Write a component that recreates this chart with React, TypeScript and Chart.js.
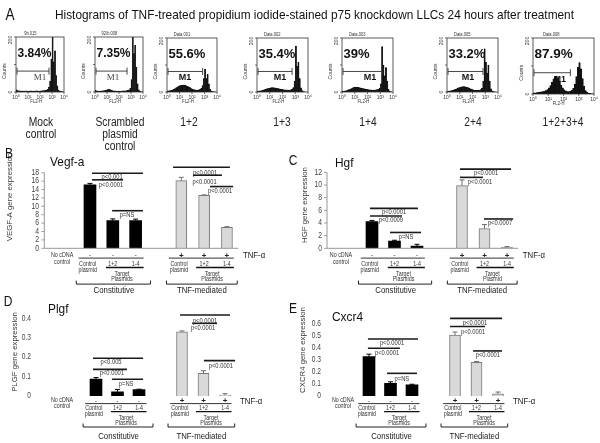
import React, { useEffect, useRef } from "react";
import { Chart, registerables } from "chart.js";
Chart.register(...registerables);

const PAGE_W = 600;
const PAGE_H = 443;
const SANS = '"Liberation Sans", Arial, Helvetica, sans-serif';
const SERIF = '"Liberation Serif", "Times New Roman", serif';

// ================= Panel A : flow cytometry histograms =================
const pageLetter = "A";
const pageTitle =
  "Histograms of TNF-treated propidium iodide-stained p75 knockdown LLCs 24 hours after treatment";
const histConditionLabels = [
  ["Mock", "control"],
  ["Scrambled", "plasmid", "control"],
  ["1+2"],
  ["1+3"],
  ["1+4"],
  ["2+4"],
  ["1+2+3+4"],
];
const histFileNames = ["9b.015", "92/b.008", "Data.001", "Data.002", "Data.003", "Data.005", "Data.008"];
const histPercentLabels = ["3.84%", "7.35%", "55.6%", "35.4%", "39%", "33.2%", "87.9%"];
const histM1EndDecade = [2.75, 2.67, 2.85, 2.75, 3.2, 2.82, 2.45];
const histM1LabelDecade = [2.0, 1.5, 1.45, 1.8, 2.2, 1.65, 1.75];
const histDecadeTicks = ["10\u2070", "10\u00b9", "10\u00b2", "10\u00b3", "10\u2074"];
const histYTicks = [0, 100, 200];

// counts per 0.1-decade bin of FL2-H (10^0 .. 10^4)
const countsMock = [8, 5, 4, 4, 3, 4, 3, 3, 4, 3, 3, 3, 4, 3, 3, 3, 4, 4, 3, 3, 4, 4, 5, 5, 6, 7, 10, 18, 40, 120, 215, 110, 150, 60, 22, 7, 3, 2, 1, 1];
const countsScrambled = [6, 4, 3, 3, 3, 4, 4, 5, 6, 7, 9, 10, 9, 7, 5, 4, 4, 3, 3, 3, 3, 3, 3, 4, 4, 4, 5, 6, 8, 14, 45, 215, 140, 170, 90, 30, 8, 3, 1, 1];
const counts12 = [4, 4, 5, 6, 8, 10, 13, 16, 19, 22, 24, 25, 26, 26, 25, 23, 21, 19, 16, 13, 11, 9, 8, 7, 7, 8, 10, 14, 24, 50, 85, 50, 65, 30, 10, 4, 2, 1, 1, 0];
const counts13 = [3, 3, 4, 5, 6, 8, 10, 12, 13, 14, 15, 16, 16, 15, 15, 14, 13, 12, 11, 10, 9, 8, 8, 7, 7, 7, 8, 10, 16, 40, 170, 95, 110, 50, 15, 5, 2, 1, 0, 0];
const counts14 = [3, 3, 4, 5, 7, 9, 11, 13, 15, 17, 18, 18, 17, 16, 15, 14, 13, 12, 11, 10, 9, 8, 8, 7, 7, 7, 8, 9, 10, 14, 30, 168, 100, 60, 90, 40, 10, 3, 1, 0];
const counts24 = [3, 3, 4, 5, 6, 8, 10, 12, 14, 16, 18, 19, 20, 20, 19, 18, 16, 14, 12, 10, 8, 7, 6, 6, 6, 7, 9, 14, 40, 160, 110, 70, 100, 40, 12, 4, 2, 1, 0, 0];
const counts1234 = [4, 4, 5, 6, 7, 8, 9, 10, 12, 16, 22, 30, 42, 54, 62, 64, 58, 46, 32, 22, 15, 11, 9, 9, 10, 13, 20, 35, 62, 95, 112, 90, 55, 28, 12, 6, 3, 2, 1, 1];
const histCounts = [countsMock, countsScrambled, counts12, counts13, counts14, counts24, counts1234];

// layout of panel A (page pixels): [left, right, top, bottom]
const histBoxes = [
  [16, 64, 37, 92],
  [95, 143, 37, 92],
  [167, 217, 38, 92],
  [257, 308, 38, 92],
  [342, 393, 38, 92],
  [447, 498, 38, 92],
  [533, 594, 38, 94],
];
const histLabelCenters = [41, 120, 189, 282, 368, 473, 563];
const histPctFont = [12, 12, 13, 13, 13, 13, 13.5];
const histM1Serif = [true, true, false, false, false, false, false];

// ================= Panels B-E : gene expression bars =================
const xCategories = ["No cDNA control", "", "Control plasmid", "1+2", "1-4", "", "Control plasmid", "1+2", "1-4"];
const constSlots = [2, 3, 4];
const tnfSlots = [6, 7, 8];
const constSigns = ["-", "-", "-"];
const tnfSigns = ["+", "+", "+"];
const groupLabels = ["Constitutive", "TNF-mediated"];

const vegfConst = [15.1, 6.6, 6.6];
const vegfConstErr = [0.35, 0.4, 0.35];
const vegfTnf = [16.1, 12.6, 5.0];
const vegfTnfErr = [0.8, 0.12, 0.15];
const vegfSigLines = [[2.09, 4.32, 17.86], [2.09, 3.45, 16.3], [2.97, 4.32, 8.95], [5.64, 8.13, 19.3], [6.51, 7.78, 17.4], [7.26, 8.27, 14.7]];
const vegfSigTexts: [string, number, number][] = [["p<0.001", 2.97, 17.0], ["p<0.0001", 2.92, 15.1], ["p=NS", 3.62, 7.8], ["p<0.0001", 7.04, 18.0], ["p<0.0001", 7.02, 15.7], ["p<0.0001", 7.7, 13.5]];

const hgfConst = [4.2, 1.15, 0.35];
const hgfConstErr = [0.2, 0.12, 0.28];
const hgfTnf = [9.9, 3.1, 0.15];
const hgfTnfErr = [0.9, 0.65, 0.12];
const hgfSigLines = [[1.91, 4.04, 6.3], [1.91, 3.33, 5.1], [2.8, 4.18, 2.5], [5.91, 8.18, 12.5], [5.91, 6.93, 11.2], [6.98, 8.27, 4.63]];
const hgfSigTexts: [string, number, number][] = [["p<0.0001", 2.98, 5.7], ["p<0.0009", 2.84, 4.47], ["p=NS", 3.51, 1.74], ["p<0.0001", 7.07, 11.85], ["p<0.0001", 6.8, 10.4], ["p<0.0007", 7.69, 3.95]];

const plgfConst = [0.087, 0.022, 0.033];
const plgfConstErr = [0.008, 0.012, 0.002];
const plgfTnf = [0.33, 0.117, 0.005];
const plgfTnfErr = [0.005, 0.013, 0.007];
const plgfSigLines = [[1.86, 4.19, 0.194], [1.86, 3.44, 0.137], [2.74, 4.19, 0.086], [5.91, 8.23, 0.417], [6.47, 7.63, 0.374], [7.02, 8.47, 0.182]];
const plgfSigTexts: [string, number, number][] = [["p<0.005", 2.7, 0.177], ["p<0.0001", 2.74, 0.117], ["p=NS", 3.4, 0.06], ["p<0.0001", 7.07, 0.386], ["p<0.0001", 6.98, 0.35], ["p<0.0001", 7.81, 0.155]];

const cxcr4Const = [0.325, 0.105, 0.092];
const cxcr4ConstErr = [0.02, 0.012, 0.005];
const cxcr4Tnf = [0.503, 0.277, 0.018];
const cxcr4TnfErr = [0.025, 0.008, 0.015];
const cxcr4SigLines = [[1.95, 4.28, 0.471], [1.95, 3.44, 0.394], [2.84, 4.23, 0.187], [5.77, 8.19, 0.641], [5.77, 7.4, 0.573], [6.84, 8.19, 0.372]];
const cxcr4SigTexts: [string, number, number][] = [["p<0.0001", 3.07, 0.435], ["p<0.0001", 2.84, 0.358], ["p=NS", 3.53, 0.138], ["p<0.0001", 6.93, 0.6], ["p<0.0001", 6.84, 0.526], ["p<0.0001", 7.53, 0.339]];

// ---- layout (positions / styles) ----
const topRowOffsets = { noc1: 6.8, noc2: 13.5, sign: 7.0, signLine: 9.8, tnf: 7.3, sub1: 15.8, sub2: 21.8, subLine: 19.2, target1: 25.8, target2: 31.3, bracket: 35.8, group: 42.5 };
const bottomRowOffsets = { noc1: 3.8, noc2: 10.2, sign: 5.0, signLine: 7.6, tnf: 5.8, sub1: 12.2, sub2: 18, subLine: 15.7, target1: 22.2, target2: 27.3, bracket: 31, group: 40 };
const annot = {
  constSignLine: [1.5, 4.35], tnfSignLine: [5.45, 8.3], tnfLabel: 8.7,
  constCtrl: 1.9, tnfCtrl: 5.9, constSub: [2.7, 4.35], tnfSub: [6.65, 8.3],
  constTarget: 3.4, tnfTarget: 7.35, constBracket: [1.4, 4.65], tnfBracket: [5.35, 8.45],
  constGroup: 3.05, tnfGroup: 6.9,
};

type Offs = typeof topRowOffsets;
type BarPanel = {
  letter: string; gene: string; yTitle: string; yMax: number; yStep: number; decimals: number;
  constVals: number[]; constErr: number[]; tnfVals: number[]; tnfErr: number[];
  sigLines: number[][]; sigTexts: [string, number, number][]; tnfTargetWord: string;
  L: {
    slotLeft: number; slotW: number; top: number; bottom: number;
    letterX: number; letterY: number; geneX: number; geneY: number;
    yTitleX: number; yTitleY: number; tickRight: number; tickFont: number; tickSx: number;
    axes: boolean; noCdna: number; offs: Offs;
  };
};

const barPanels: BarPanel[] = [
  {
    letter: "B", gene: "Vegf-a", yTitle: "VEGF-A gene expression", yMax: 18, yStep: 2, decimals: 0,
    constVals: vegfConst, constErr: vegfConstErr, tnfVals: vegfTnf, tnfErr: vegfTnfErr,
    sigLines: vegfSigLines, sigTexts: vegfSigTexts, tnfTargetWord: "Plasmids",
    L: { slotLeft: 32.9, slotW: 22.83, top: 172.7, bottom: 248.3, letterX: 9, letterY: 154, geneX: 50, geneY: 162,
      yTitleX: 10, yTitleY: 197, tickRight: 39, tickFont: 8.5, tickSx: 0.8, axes: true, noCdna: 0.78, offs: topRowOffsets },
  },
  {
    letter: "C", gene: "Hgf", yTitle: "HGF gene expression", yMax: 12, yStep: 2, decimals: 0,
    constVals: hgfConst, constErr: hgfConstErr, tnfVals: hgfTnf, tnfErr: hgfTnfErr,
    sigLines: hgfSigLines, sigTexts: hgfSigTexts, tnfTargetWord: "Plasmid",
    L: { slotLeft: 315.75, slotW: 22.5, top: 172.3, bottom: 248.3, letterX: 293, letterY: 161, geneX: 335, geneY: 163,
      yTitleX: 305, yTitleY: 205, tickRight: 322, tickFont: 8.5, tickSx: 0.8, axes: true, noCdna: 0.62, offs: topRowOffsets },
  },
  {
    letter: "D", gene: "Plgf", yTitle: "PLGF gene expression", yMax: 0.4, yStep: 0.1, decimals: 1,
    constVals: plgfConst, constErr: plgfConstErr, tnfVals: plgfTnf, tnfErr: plgfTnfErr,
    sigLines: plgfSigLines, sigTexts: plgfSigTexts, tnfTargetWord: "Plasmids",
    L: { slotLeft: 42.25, slotW: 21.5, top: 318.3, bottom: 396, letterX: 8, letterY: 302, geneX: 48, geneY: 309,
      yTitleX: 15, yTitleY: 352, tickRight: 31, tickFont: 8.5, tickSx: 0.78, axes: false, noCdna: 0.42, offs: bottomRowOffsets },
  },
  {
    letter: "E", gene: "Cxcr4", yTitle: "CXCR4 gene expression", yMax: 0.6, yStep: 0.1, decimals: 1,
    constVals: cxcr4Const, constErr: cxcr4ConstErr, tnfVals: cxcr4Tnf, tnfErr: cxcr4TnfErr,
    sigLines: cxcr4SigLines, sigTexts: cxcr4SigTexts, tnfTargetWord: "Plasmids",
    L: { slotLeft: 315.25, slotW: 21.5, top: 323.3, bottom: 396, letterX: 293, letterY: 309, geneX: 332, geneY: 317,
      yTitleX: 303, yTitleY: 350, tickRight: 321, tickFont: 8.5, tickSx: 0.78, axes: false, noCdna: 0.79, offs: bottomRowOffsets },
  },
];

// ================= drawing helpers =================
type TOpts = { align?: CanvasTextAlign; bold?: boolean; family?: string; color?: string; sx?: number; rot?: number };
function drawText(ctx: CanvasRenderingContext2D, s: string, x: number, y: number, size: number, o: TOpts = {}) {
  ctx.save();
  ctx.translate(x, y);
  if (o.rot) ctx.rotate(o.rot);
  ctx.scale(o.sx ?? 1, 1);
  ctx.font = `${o.bold ? "bold " : ""}${size}px ${o.family ?? SANS}`;
  ctx.fillStyle = o.color ?? "#222";
  ctx.textAlign = o.align ?? "center";
  ctx.textBaseline = "middle";
  ctx.fillText(s, 0, 0);
  ctx.restore();
}
function seg(ctx: CanvasRenderingContext2D, x1: number, y1: number, x2: number, y2: number, w = 1, color = "#222") {
  ctx.save();
  ctx.strokeStyle = color;
  ctx.lineWidth = w;
  ctx.beginPath();
  ctx.moveTo(x1, y1);
  ctx.lineTo(x2, y2);
  ctx.stroke();
  ctx.restore();
}

// ================= panel A configs =================
function histPlugin(i: number) {
  return {
    id: "histDecor" + i,
    afterDraw(chart: any) {
      const ctx: CanvasRenderingContext2D = chart.ctx;
      const a = chart.chartArea;
      const ys = chart.scales.y;
      const w = a.right - a.left;
      const h = a.bottom - a.top;
      const dx = (d: number) => a.left + (d / 4) * w;
      ctx.save();
      ctx.strokeStyle = "#333";
      ctx.lineWidth = 0.8;
      ctx.strokeRect(a.left, a.top, w, h);
      ctx.restore();
      histDecadeTicks.forEach((lab, d) => {
        const x = dx(d);
        seg(ctx, x, a.bottom, x, a.bottom + 2, 0.7, "#333");
        drawText(ctx, lab, x, a.bottom + 5, 5.5, { sx: 0.9, color: "#333" });
      });
      drawText(ctx, "FL2-H", a.left + 0.42 * w, a.bottom + 10, 5, { sx: 0.85, color: "#333" });
      histYTicks.forEach((v) => {
        const y = ys.getPixelForValue(v);
        seg(ctx, a.left - 2, y, a.left, y, 0.7, "#333");
      });
      drawText(ctx, "200", a.left - 5, ys.getPixelForValue(200) + 3, 5, { rot: -Math.PI / 2, color: "#333" });
      drawText(ctx, "0", a.left - 5, ys.getPixelForValue(0), 5, { rot: -Math.PI / 2, color: "#333" });
      drawText(ctx, "Counts", a.left - 11, a.top + 0.62 * h, 5, { rot: -Math.PI / 2, color: "#333" });
      drawText(ctx, histFileNames[i], a.left + 0.3 * w, a.top - 3.5, 4.8, { sx: 0.85, color: "#333" });
      drawText(ctx, histPercentLabels[i], a.left + 1.5, a.top + 16.5, histPctFont[i], { bold: true, align: "left", color: "#111" });
      const my = a.top + 0.62 * h;
      const x1 = a.left + 1;
      const x2 = dx(histM1EndDecade[i]);
      seg(ctx, x1, my, x2, my, 0.9, "#333");
      seg(ctx, x1, my - 3.5, x1, my + 3.5, 0.9, "#333");
      seg(ctx, x2, my - 3.5, x2, my + 3.5, 0.9, "#333");
      const serif = histM1Serif[i];
      drawText(ctx, "M1", dx(histM1LabelDecade[i]), my + 6.5, 9, {
        bold: !serif, family: serif ? SERIF : SANS, color: serif ? "#444" : "#111",
      });
      histConditionLabels[i].forEach((s, k) => {
        drawText(ctx, s, histLabelCenters[i], 123 + k * 12, 12.5, { sx: 0.82, color: "#222" });
      });
      if (i === 0) {
        ctx.save();
        ctx.font = `13.5px ${SANS}`;
        const tw = ctx.measureText(pageTitle).width;
        ctx.restore();
        drawText(ctx, pageTitle, 314.5, 15, 13.5, { sx: 519 / tw, color: "#111" });
        drawText(ctx, pageLetter, 10, 16, 16, { sx: 0.85, color: "#111" });
      }
    },
  };
}

function histConfig(i: number) {
  const b = histBoxes[i];
  const binLabels = histCounts[i].map((_, k) => (k / 10).toFixed(1));
  return {
    type: "bar",
    data: {
      labels: binLabels,
      datasets: [
        {
          data: histCounts[i],
          backgroundColor: "#111",
          borderColor: "#111",
          borderWidth: 0.4,
          barPercentage: 1,
          categoryPercentage: 1,
          clip: 0,
        },
      ],
    },
    options: {
      responsive: false,
      animation: false,
      events: [],
      layout: { padding: { left: b[0], right: PAGE_W - b[1], top: b[2], bottom: PAGE_H - b[3] } },
      plugins: { legend: { display: false }, tooltip: { enabled: false } },
      scales: {
        x: { display: false },
        y: { display: false, min: 0, max: 200 },
      },
    },
    plugins: [histPlugin(i)],
  };
}

// ================= panels B-E configs =================
function slotArray(vals: number[], slots: number[]) {
  const out: (number | null)[] = xCategories.map(() => null);
  slots.forEach((s, k) => {
    out[s] = vals[k];
  });
  return out;
}

function barPlugin(p: BarPanel) {
  return {
    id: "panel" + p.letter,
    afterDatasetsDraw(chart: any) {
      const ctx: CanvasRenderingContext2D = chart.ctx;
      const ys = chart.scales.y;
      const errs = [slotArray(p.constErr, constSlots), slotArray(p.tnfErr, tnfSlots)];
      const colors = ["#000", "#6e6e6e"];
      [0, 1].forEach((d) => {
        const meta = chart.getDatasetMeta(d);
        const vals = chart.data.datasets[d].data;
        meta.data.forEach((el: any, i: number) => {
          const v = vals[i];
          const e = errs[d][i];
          if (v == null || e == null) return;
          const yTop = ys.getPixelForValue(v);
          const yE = ys.getPixelForValue(v + e);
          seg(ctx, el.x, yTop, el.x, yE, 1, colors[d]);
          seg(ctx, el.x - 2.5, yE, el.x + 2.5, yE, 1, colors[d]);
        });
      });
    },
    afterDraw(chart: any) {
      const ctx: CanvasRenderingContext2D = chart.ctx;
      const xs = chart.scales.x;
      const ys = chart.scales.y;
      const L = p.L;
      const o = L.offs;
      const px = (s: number) => xs.getPixelForValue(s);
      const base = ys.getPixelForValue(0);
      const topPx = ys.getPixelForValue(p.yMax);

      drawText(ctx, p.letter, L.letterX, L.letterY, 15, { sx: 0.8, color: "#111" });
      drawText(ctx, p.gene, L.geneX, L.geneY, 13.5, { align: "left", sx: 0.88, color: "#111" });
      drawText(ctx, p.yTitle, L.yTitleX, L.yTitleY, 7.8, { rot: -Math.PI / 2, color: "#333" });

      const ticks: number[] = [];
      for (let k = 0; k * p.yStep <= p.yMax + 1e-9; k++) ticks.push(Number((k * p.yStep).toFixed(6)));
      ticks.forEach((v) => {
        const yy = ys.getPixelForValue(v);
        const lab = v === 0 ? "0" : v.toFixed(p.decimals);
        drawText(ctx, lab, L.tickRight, yy, L.tickFont, { align: "right", sx: L.tickSx, color: "#444" });
        if (L.axes) seg(ctx, px(0) - 3, yy, px(0), yy, 0.8, "#8c8c8c");
      });
      if (L.axes) {
        seg(ctx, px(0), topPx, px(0), base, 0.9, "#8c8c8c");
        seg(ctx, px(0), base, chart.chartArea.right, base, 0.9, "#8c8c8c");
      }

      p.sigLines.forEach(([a, b, v]) => seg(ctx, px(a), ys.getPixelForValue(v), px(b), ys.getPixelForValue(v), 1.6, "#1a1a1a"));
      p.sigTexts.forEach(([s, a, v]) => drawText(ctx, s, px(a), ys.getPixelForValue(v), 6.8, { sx: 0.85, color: "#333" }));

      const aF = 6.5;
      const aS = 0.82;
      const tc = "#333";
      drawText(ctx, "No cDNA", px(L.noCdna), base + o.noc1, aF, { sx: aS, color: tc });
      drawText(ctx, "control", px(L.noCdna), base + o.noc2, aF, { sx: aS, color: tc });
      constSlots.forEach((s, k) => drawText(ctx, constSigns[k], px(s), base + o.sign, 7, { color: "#333" }));
      tnfSlots.forEach((s, k) => drawText(ctx, tnfSigns[k], px(s), base + o.sign, 8, { bold: true, color: "#222" }));
      seg(ctx, px(annot.constSignLine[0]), base + o.signLine, px(annot.constSignLine[1]), base + o.signLine, 1, "#333");
      seg(ctx, px(annot.tnfSignLine[0]), base + o.signLine, px(annot.tnfSignLine[1]), base + o.signLine, 1, "#333");
      drawText(ctx, "TNF-\u03b1", px(annot.tnfLabel), base + o.tnf, 9.5, { align: "left", sx: 0.82, color: "#222" });

      [annot.constCtrl, annot.tnfCtrl].forEach((c) => {
        drawText(ctx, "Control", px(c), base + o.sub1, aF, { sx: aS, color: tc });
        drawText(ctx, "plasmid", px(c), base + o.sub2, aF, { sx: aS, color: tc });
      });
      [constSlots, tnfSlots].forEach((slots) => {
        drawText(ctx, xCategories[slots[1]], px(slots[1]), base + o.sub1, aF, { sx: aS, color: tc });
        drawText(ctx, xCategories[slots[2]], px(slots[2]), base + o.sub1, aF, { sx: aS, color: tc });
      });
      seg(ctx, px(annot.constSub[0]), base + o.subLine, px(annot.constSub[1]), base + o.subLine, 1.3, "#111");
      seg(ctx, px(annot.tnfSub[0]), base + o.subLine, px(annot.tnfSub[1]), base + o.subLine, 1.3, "#111");
      drawText(ctx, "Target", px(annot.constTarget), base + o.target1, aF, { sx: aS, color: tc });
      drawText(ctx, "Plasmids", px(annot.constTarget), base + o.target2, aF, { sx: aS, color: tc });
      drawText(ctx, "Target", px(annot.tnfTarget), base + o.target1, aF, { sx: aS, color: tc });
      drawText(ctx, p.tnfTargetWord, px(annot.tnfTarget), base + o.target2, aF, { sx: aS, color: tc });

      [annot.constBracket, annot.tnfBracket].forEach(([a, b]) => {
        const yb = base + o.bracket;
        seg(ctx, px(a), yb, px(b), yb, 1, "#222");
        seg(ctx, px(a), yb, px(a), yb - 3.5, 1, "#222");
        seg(ctx, px(b), yb, px(b), yb - 3.5, 1, "#222");
      });
      drawText(ctx, groupLabels[0], px(annot.constGroup), base + o.group, 9.5, { sx: 0.82, color: "#222" });
      drawText(ctx, groupLabels[1], px(annot.tnfGroup), base + o.group, 9.5, { sx: 0.82, color: "#222" });
    },
  };
}

function barConfig(p: BarPanel) {
  const L = p.L;
  const left = L.slotLeft;
  const right = L.slotLeft + L.slotW * xCategories.length;
  return {
    type: "bar",
    data: {
      labels: xCategories,
      datasets: [
        {
          data: slotArray(p.constVals, constSlots),
          backgroundColor: "#000",
          borderWidth: 0,
          barThickness: 12,
          grouped: false,
        },
        {
          data: slotArray(p.tnfVals, tnfSlots),
          backgroundColor: "#d9d9d9",
          borderColor: "#7a7a7a",
          borderWidth: 1,
          barThickness: 11,
          grouped: false,
        },
      ],
    },
    options: {
      responsive: false,
      animation: false,
      events: [],
      layout: { padding: { left, right: PAGE_W - right, top: L.top, bottom: PAGE_H - L.bottom } },
      plugins: { legend: { display: false }, tooltip: { enabled: false } },
      scales: {
        x: { display: false, offset: true },
        y: { display: false, min: 0, max: p.yMax, ticks: { stepSize: p.yStep } },
      },
    },
    plugins: [barPlugin(p)],
  };
}

// ================= React =================
function ChartCanvas({ make }: { make: () => any }) {
  const ref = useRef<HTMLCanvasElement>(null);
  useEffect(() => {
    if (!ref.current) return;
    const chart = new Chart(ref.current, make());
    return () => chart.destroy();
  }, []);
  return (
    <canvas
      ref={ref}
      width={PAGE_W}
      height={PAGE_H}
      style={{ position: "absolute", left: 0, top: 0, width: PAGE_W, height: PAGE_H, pointerEvents: "none" }}
    />
  );
}

export default function App() {
  useEffect(() => {
    document.body.style.margin = "0";
    document.body.style.background = "#fff";
  }, []);
  return (
    <div style={{ position: "absolute", left: 0, top: 0, width: PAGE_W, height: PAGE_H, background: "#fff", overflow: "hidden" }}>
      {histCounts.map((_, i) => (
        <ChartCanvas key={"h" + i} make={() => histConfig(i)} />
      ))}
      {barPanels.map((p) => (
        <ChartCanvas key={"b" + p.letter} make={() => barConfig(p)} />
      ))}
    </div>
  );
}
